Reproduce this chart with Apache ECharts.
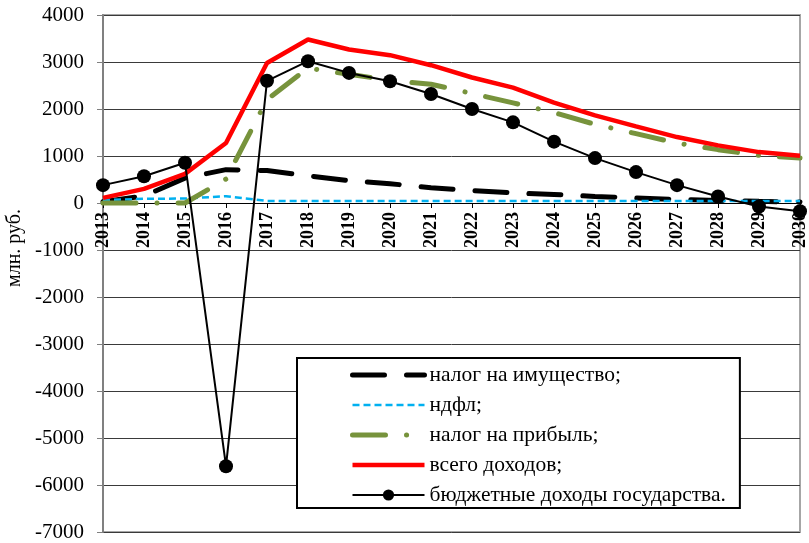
<!DOCTYPE html>
<html>
<head>
<meta charset="utf-8">
<script src="https://cdn.jsdelivr.net/npm/echarts@6/dist/echarts.min.js"></script>
<style>
html,body{margin:0;padding:0;background:#fff;}
#chart{width:809px;height:543px;}
</style>
</head>
<body>
<div id="chart"></div>
<script>
const years = ['2013','2014','2015','2016','2017','2018','2019','2020','2021','2022','2023','2024','2025','2026','2027','2028','2029','2030'];
const propertyTax = [25, 150, 530, 710, 690, 580, 475, 410, 325, 265, 215, 180, 140, 105, 75, 55, 35, 20];
const ndfl = [60, 90, 95, 145, 45, 40, 40, 40, 40, 40, 40, 40, 40, 40, 40, 40, 40, 40];
const profitTax = [0, 0, 0, 510, 2200, 2870, 2740, 2610, 2527, 2330, 2130, 1925, 1674, 1475, 1275, 1135, 1013, 955];
const totalIncome = [110, 300, 620, 1275, 2980, 3480, 3266, 3145, 2932, 2670, 2456, 2136, 1866, 1630, 1403, 1226, 1083, 1006];
const budgetIncome = [380, 570, 857, -5600, 2600, 3017, 2768, 2590, 2320, 2000, 1716, 1305, 955, 657, 380, 139, -75, -175];
const yTicks = {min: -7000, max: 4000, interval: 1000};
const seriesNames = ['налог на имущество;', 'ндфл;', 'налог на прибыль;', 'всего доходов;', 'бюджетные доходы государства.'];

const FONT = '"Liberation Serif", "Times New Roman", serif';
const W = 809, H = 543;
const gridTop = 15, gridBottom = 11;
const plotH = H - gridTop - gridBottom;
// distance from plot bottom to the zero line, derived from the axis range
const zeroOffset = plotH * (0 - yTicks.min) / (yTicks.max - yTicks.min);

const chart = echarts.init(document.getElementById('chart'), null, {renderer: 'canvas'});
chart.setOption({
  animation: false,
  backgroundColor: '#ffffff',
  grid: {left: 103, right: 7, top: gridTop, bottom: gridBottom, show: true, borderColor: '#A6A6A6', borderWidth: 2, backgroundColor: 'transparent'},
  xAxis: {
    type: 'category', data: years, boundaryGap: false, position: 'bottom',
    offset: -zeroOffset,
    axisLine: {onZero: false, lineStyle: {color: '#000', width: 1}},
    axisTick: {show: true, alignWithLabel: true, length: 5, lineStyle: {color: '#000'}},
    axisLabel: {rotate: 90, margin: 9, fontFamily: FONT, fontWeight: 'bold', fontSize: 18, color: '#000', interval: 0},
    splitLine: {show: false}
  },
  yAxis: {
    type: 'value', min: yTicks.min, max: yTicks.max, interval: yTicks.interval,
    axisLine: {show: true, lineStyle: {color: '#808080', width: 2}},
    axisTick: {show: true, length: 6, lineStyle: {color: '#808080', width: 1}},
    axisLabel: {fontFamily: FONT, fontSize: 21, color: '#000', margin: 19, formatter: function (v) { return String(v); }},
    splitLine: {show: true, lineStyle: {color: '#3a3a3a', width: 1}}
  },
  legend: {
    orient: 'vertical', left: 297, top: 358,
    padding: [6, 14, 2, 53],
    backgroundColor: '#fff', borderColor: '#000', borderWidth: 2,
    itemWidth: 72, itemHeight: 14, itemGap: 8,
    lineStyle: {width: 'inherit'},
    textStyle: {fontFamily: FONT, fontSize: 21.5, color: '#000', lineHeight: 20},
    data: seriesNames
  },
  graphic: [{
    type: 'text', x: 15, y: 248, rotation: Math.PI / 2,
    style: {text: 'млн. руб.', font: '20px ' + FONT, fill: '#000', textAlign: 'center', textVerticalAlign: 'middle'}
  }],
  series: [
    {name: seriesNames[0], type: 'line', data: propertyTax, symbol: 'none',
     lineStyle: {color: '#000', width: 5, type: [32, 22], cap: 'round'}, itemStyle: {color: 'rgba(0,0,0,0)'}},
    {name: seriesNames[1], type: 'line', data: ndfl, symbol: 'none',
     lineStyle: {color: '#00B0F0', width: 2.5, type: [7, 4]}, itemStyle: {color: 'rgba(0,0,0,0)'}},
    {name: seriesNames[2], type: 'line', data: profitTax, symbol: 'none',
     lineStyle: {color: '#77933C', width: 5, type: [33, 21, 0.1, 21], cap: 'round'}, itemStyle: {color: 'rgba(0,0,0,0)'}},
    {name: seriesNames[3], type: 'line', data: totalIncome, symbol: 'none',
     lineStyle: {color: '#FF0000', width: 4.5}, itemStyle: {color: 'rgba(0,0,0,0)'}},
    {name: seriesNames[4], type: 'line', data: budgetIncome, symbol: 'circle', symbolSize: 14,
     lineStyle: {color: '#000', width: 2}, itemStyle: {color: '#000'}}
  ]
});
</script>
</body>
</html>
